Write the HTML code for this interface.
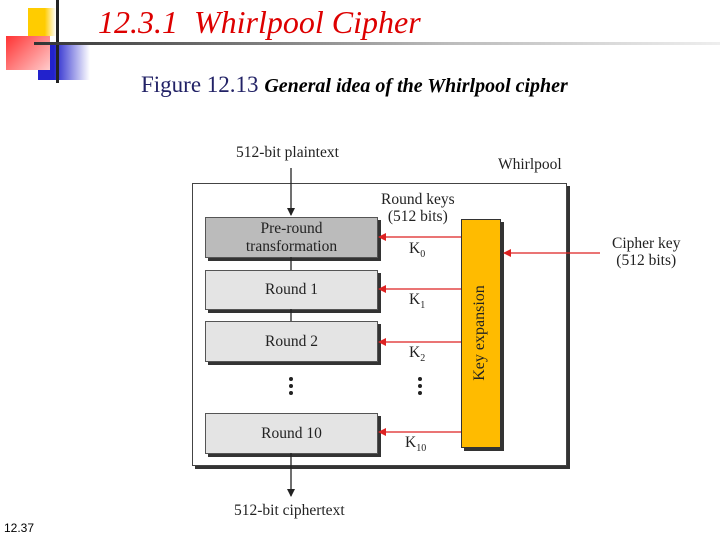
<!DOCTYPE html>
<html><head><style>
body{margin:0;width:720px;height:540px;background:#fff;position:relative;overflow:hidden;font-family:"Liberation Serif",serif}
.a{position:absolute}
.box{position:absolute;border:1px solid #555;box-shadow:3px 3px 0 #333;text-align:center;font-size:15.5px;color:#222}
.t{position:absolute;font-size:15.5px;color:#222;white-space:nowrap}
</style></head><body>
<div class="a" style="left:28px;top:8px;width:28px;height:28px;background:linear-gradient(90deg,#fc0 60%,#fff)"></div>
<div class="a" style="left:38px;top:45px;width:52px;height:35px;background:linear-gradient(90deg,#22c 30%,#fff)"></div>
<div class="a" style="left:6px;top:36px;width:44px;height:34px;background:linear-gradient(135deg,#f33,#fcc)"></div>
<div class="a" style="left:56px;top:0;width:3px;height:83px;background:#222"></div>
<div class="a" style="left:34px;top:42px;width:686px;height:3px;background:linear-gradient(90deg,#333,#bbb 60%,#eee)"></div>
<div class="a" style="left:98px;top:4px;font-size:32px;font-style:italic;color:#d00">12.3.1&nbsp; Whirlpool Cipher</div>
<div class="a" style="left:141px;top:72px;font-size:23px;color:#226">Figure 12.13 <i style="font-size:20px;font-weight:bold;color:#000">General idea of the Whirlpool cipher</i></div>
<div class="a" style="left:4px;top:521px;font-family:'Liberation Sans',sans-serif;font-size:12px">12.37</div>

<div class="box" style="left:192px;top:183px;width:373px;height:281px;border-color:#444"></div>
<div class="box" style="left:205px;top:217px;width:171px;background:#bbb;line-height:18px;padding-top:2px;height:37px">Pre-round<br>transformation</div>
<div class="box" style="left:205px;top:270px;width:171px;height:38px;background:#e4e4e4;line-height:38px">Round 1</div>
<div class="box" style="left:205px;top:321px;width:171px;height:39px;background:#e4e4e4;line-height:39px">Round 2</div>
<div class="box" style="left:205px;top:413px;width:171px;height:39px;background:#e4e4e4;line-height:39px">Round 10</div>
<div class="box" style="left:461px;top:219px;width:38px;height:227px;background:#fb0;border-color:#333"></div>
<div class="t" style="left:480px;top:333px;transform:translate(-50%,-50%) rotate(-90deg);font-size:16px">Key expansion</div>

<svg class="a" style="left:0;top:0" width="720" height="540">
<defs><marker id="b" markerWidth="8" markerHeight="8" refX="7" refY="4" orient="auto" markerUnits="userSpaceOnUse"><path d="M0,0L8,4L0,8z" fill="#222"/></marker>
<marker id="r" markerWidth="8" markerHeight="8" refX="7" refY="4" orient="auto" markerUnits="userSpaceOnUse"><path d="M0,0L8,4L0,8z" fill="#d22"/></marker></defs>
<g stroke="#222" stroke-width="1.3" fill="none">
<line x1="291" y1="168" x2="291" y2="215" marker-end="url(#b)"/>
<line x1="291" y1="257" x2="291" y2="270"/>
<line x1="291" y1="309" x2="291" y2="321"/>
<line x1="291" y1="453" x2="291" y2="496" marker-end="url(#b)"/>
</g>
<g stroke="#d22" stroke-width="1.3">
<line x1="461" y1="237" x2="379" y2="237" marker-end="url(#r)"/>
<line x1="461" y1="289" x2="379" y2="289" marker-end="url(#r)"/>
<line x1="461" y1="342" x2="379" y2="342" marker-end="url(#r)"/>
<line x1="461" y1="432" x2="379" y2="432" marker-end="url(#r)"/>
<line x1="600" y1="253" x2="504" y2="253" marker-end="url(#r)"/>
</g>
<g fill="#222"><circle cx="291" cy="379" r="2"/><circle cx="291" cy="386" r="2"/><circle cx="291" cy="393" r="2"/>
<circle cx="420" cy="379" r="2"/><circle cx="420" cy="386" r="2"/><circle cx="420" cy="393" r="2"/></g>
</svg>
<div class="t" style="left:236px;top:144px">512-bit plaintext</div>
<div class="t" style="left:498px;top:156px">Whirlpool</div>
<div class="t" style="left:381px;top:191px;text-align:center;line-height:17px">Round keys<br>(512 bits)</div>
<div class="t" style="left:409px;top:240px">K<sub style="font-size:10px">0</sub></div>
<div class="t" style="left:409px;top:291px">K<sub style="font-size:10px">1</sub></div>
<div class="t" style="left:409px;top:344px">K<sub style="font-size:10px">2</sub></div>
<div class="t" style="left:405px;top:434px">K<sub style="font-size:10px">10</sub></div>
<div class="t" style="left:612px;top:235px;text-align:center;line-height:17px">Cipher key<br>(512 bits)</div>
<div class="t" style="left:234px;top:502px">512-bit ciphertext</div>
</body></html>
